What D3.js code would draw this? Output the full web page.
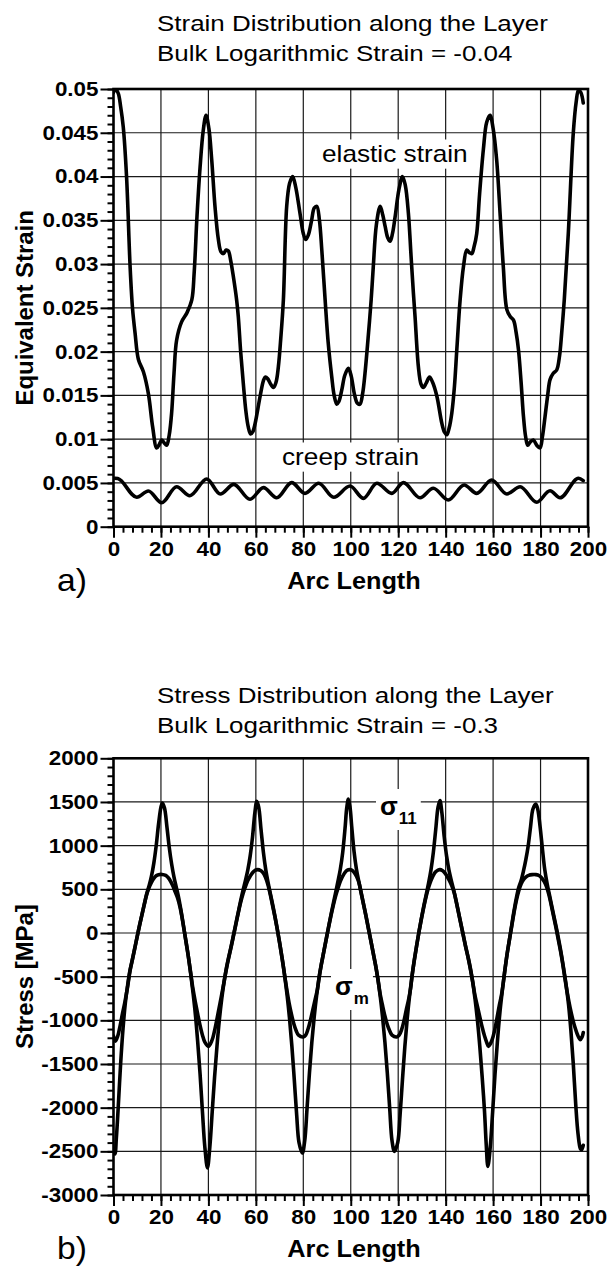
<!DOCTYPE html>
<html lang="en">
<head>
<meta charset="UTF-8">
<title>Strain and stress distribution along the layer</title>
<script src="https://d3js.org/d3.v7.min.js"></script>
<style>
  body { margin: 0; background: #fff; }
  svg { display: block; }
  text { font-family: "Liberation Sans", Arial, Helvetica, sans-serif; fill: #000; }
  .grid line { stroke: #1a1a1a; stroke-width: 1.2; }
  .tick line { stroke: #000; stroke-width: 2; }
  .tick text { font-weight: bold; font-size: 20px; }
  .curve { fill: none; stroke: #000; stroke-width: 3.6; stroke-linejoin: round; stroke-linecap: round; }
</style>
</head>
<body>
<script>
// ---------- values ----------
const arcTicks = [0, 20, 40, 60, 80, 100, 120, 140, 160, 180, 200];

const strainTicks = [0, 0.005, 0.01, 0.015, 0.02, 0.025, 0.03, 0.035, 0.04, 0.045, 0.05];
const strainLabels = ["0", "0.005", "0.01", "0.015", "0.02", "0.025", "0.03", "0.035", "0.04", "0.045", "0.05"];

const stressTicks = [-3000, -2500, -2000, -1500, -1000, -500, 0, 500, 1000, 1500, 2000];
const stressLabels = ["-3000", "-2500", "-2000", "-1500", "-1000", "-500", "0", "500", "1000", "1500", "2000"];

// panel a) : [arc length, equivalent strain]
const elasticStrain = [
  [0,0.0496],[0.8,0.0500],[2,0.0495],[3,0.0480],[4.1,0.0457],[5.5,0.0400],[7,0.0297],[8,0.0250],
  [9.1,0.0221],[10.5,0.0191],[12.6,0.0177],[14.7,0.0152],[16.5,0.0114],[18.2,0.0090],[19.3,0.0094],
  [20.3,0.0099],[21.3,0.0096],[22.4,0.0093],[23.5,0.0105],[24.5,0.0130],[25.5,0.0175],[26.6,0.0213],
  [28.7,0.0234],[30.9,0.0244],[33,0.0259],[34,0.0290],[35.2,0.0355],[36.5,0.0411],[37.8,0.0452],
  [39,0.0470],[40.2,0.0455],[41.4,0.0419],[42.8,0.0365],[44.2,0.0328],[45.3,0.0314],[46.3,0.0312],
  [47.5,0.0316],[48.4,0.0315],[49.4,0.0304],[50.5,0.0286],[51.9,0.0259],[52.6,0.0240],[53.6,0.0200],
  [54.7,0.0164],[55.8,0.0132],[56.8,0.0114],[57.8,0.0106],[58.8,0.0109],[59.7,0.0118],[61.8,0.0149],
  [63.2,0.0167],[64,0.0171],[65,0.0169],[66,0.0164],[67.4,0.0159],[68.5,0.0165],[69.5,0.0183],
  [70.5,0.0215],[71.6,0.0259],[73,0.0366],[74.2,0.0392],[75.5,0.0400],[76.8,0.0388],[78.6,0.0358],
  [80,0.0335],[81,0.0328],[82.1,0.0333],[83.5,0.0350],[84.6,0.0364],[85.7,0.0366],[86.8,0.0350],
  [87.8,0.0316],[89.2,0.0259],[90.5,0.0210],[92,0.0171],[93,0.0150],[94.1,0.0140],[95,0.0143],
  [96.2,0.0156],[97.5,0.0173],[99,0.0181],[100.2,0.0172],[101.5,0.0152],[102.8,0.0141],[103.9,0.0140],
  [105,0.0152],[106,0.0175],[107.3,0.0215],[108.6,0.0259],[109.5,0.0297],[110.8,0.0345],[112.4,0.0366],
  [113.5,0.0356],[114.5,0.0343],[115.6,0.0330],[116.6,0.0326],[117.6,0.0335],[118.7,0.0354],
  [120.3,0.0385],[121.8,0.0400],[123,0.0390],[124.3,0.0358],[125.4,0.0310],[126.4,0.0267],
  [127.1,0.0240],[128.5,0.0183],[129.6,0.0163],[130.6,0.0159],[131.8,0.0164],[133.2,0.0171],
  [134.5,0.0165],[136.3,0.0149],[138.4,0.0118],[139.5,0.0108],[140.5,0.0105],[141.5,0.0113],
  [142.6,0.0130],[143.7,0.0160],[144.7,0.0202],[146.1,0.0259],[147.5,0.0297],[148.9,0.0316],
  [150,0.0313],[151,0.0312],[152,0.0320],[153.1,0.0335],[154.3,0.0380],[155.9,0.0431],[157.3,0.0462],
  [158.7,0.0470],[160,0.0455],[161.5,0.0419],[163,0.0355],[164.3,0.0297],[165.8,0.0248],[167.2,0.0240],
  [168.6,0.0236],[169.7,0.0222],[170.7,0.0202],[171.8,0.0165],[172.8,0.0126],[173.7,0.0103],
  [174.6,0.0093],[175.7,0.0097],[177,0.0099],[178.4,0.0093],[179.8,0.0090],[180.8,0.0103],
  [181.9,0.0126],[183,0.0150],[184,0.0168],[185.3,0.0175],[186.8,0.0179],[188,0.0195],[188.9,0.0221],
  [190,0.0259],[191.7,0.0335],[193.8,0.0450],[195,0.0485],[196,0.0499],[197,0.0496],[198,0.0484]
];

const creepStrain = [
  [0.6,0.00553],[1.8,0.00550],[9.8,0.00336],[14.7,0.00408],[20.3,0.00274],[26.6,0.00457],
  [32.2,0.00354],[39.3,0.00545],[45,0.00374],[50.7,0.00484],[57.5,0.00313],[63.2,0.00446],
  [68.8,0.00331],[75.1,0.00503],[80.7,0.00381],[86.5,0.00496],[92.8,0.00336],[99.7,0.00465],
  [105.3,0.00324],[111,0.00496],[117.3,0.00381],[122.2,0.00503],[129.2,0.00330],[134.8,0.00439],
  [141.1,0.00305],[147.8,0.00477],[153.1,0.00381],[159.4,0.00534],[165.8,0.00374],[171.4,0.00457],
  [178.4,0.00279],[184,0.00411],[188.2,0.00330],[196,0.00553],[198,0.00526]
];

// panel b) : [arc length, stress in MPa]
const sigma11 = [
  [0,-2500],[0.6,-2530],[1.2,-2350],[2,-1990],[3,-1500],[4,-1100],[5,-800],[6,-590],[7,-420],[8,-300],
  [9,-170],[10,-40],[11,90],[12,210],[13,330],[14,450],[15,540],[16,650],[17,800],[18,1000],[19,1250],
  [20,1440],[20.6,1489],
  [21.5,1430],[22.5,1220],[23.5,980],[24.5,790],[25.5,640],[26.5,520],[27.5,400],[28.5,250],[29.5,80],
  [30.5,-90],[31.5,-260],[32.5,-460],[33.5,-680],[34.5,-930],[35.5,-1250],[36.5,-1620],[37.5,-2050],
  [38.5,-2450],[39.6,-2690],
  [40.6,-2450],[41.6,-2050],[42.6,-1650],[43.6,-1300],[44.6,-1000],[45.6,-760],[46.6,-560],[47.6,-400],
  [48.6,-270],[49.6,-150],[50.6,-20],[51.6,110],[52.6,240],[53.6,370],[54.6,490],[55.6,600],[56.6,720],
  [57.6,880],[58.6,1100],[59.6,1380],[60.4,1507],
  [61.2,1440],[62.2,1180],[63.2,920],[64.2,720],[65.2,570],[66.2,440],[67.2,310],[68.2,170],[69.2,20],
  [70.2,-140],[71.2,-310],[72.2,-500],[73.2,-720],[74.2,-980],[75.2,-1300],[76.2,-1680],[77.2,-2080],
  [78.2,-2400],[79.6,-2520],
  [80.6,-2380],[81.6,-2000],[82.6,-1600],[83.6,-1250],[84.6,-960],[85.6,-720],[86.6,-520],[87.6,-360],
  [88.6,-220],[89.6,-80],[90.6,60],[91.6,200],[92.6,330],[93.6,460],[94.6,590],[95.6,730],[96.6,920],
  [97.6,1200],[98.3,1430],[99,1534],
  [99.7,1440],[100.4,1220],[101.4,930],[102.4,730],[103.4,590],[104.4,460],[105.4,330],[106.4,200],
  [107.4,60],[108.4,-80],[109.4,-220],[110.4,-360],[111.4,-520],[112.4,-720],[113.4,-960],[114.4,-1250],
  [115.4,-1600],[116.4,-2000],[117.4,-2380],[118.4,-2500],
  [119.8,-2400],[120.8,-2080],[121.8,-1680],[122.8,-1300],[123.8,-980],[124.8,-720],[125.8,-500],
  [126.8,-310],[127.8,-140],[128.8,20],[129.8,170],[130.8,310],[131.8,440],[132.8,570],[133.8,720],
  [134.8,920],[135.8,1180],[136.8,1440],[137.6,1515],
  [138.4,1380],[139.4,1100],[140.4,880],[141.4,720],[142.4,600],[143.4,490],[144.4,370],[145.4,240],
  [146.4,110],[147.4,-20],[148.4,-150],[149.4,-270],[150.4,-400],[151.4,-560],[152.4,-760],[153.4,-1000],
  [154.4,-1300],[155.4,-1650],[156.4,-2050],[157.1,-2420],[157.8,-2672],
  [158.8,-2450],[159.8,-2050],[160.8,-1620],[161.8,-1250],[162.8,-930],[163.8,-680],[164.8,-460],
  [165.8,-260],[166.8,-90],[167.8,80],[168.8,250],[169.8,400],[170.8,520],[171.8,600],[172.8,710],
  [173.8,840],[174.8,1000],[175.8,1220],[176.8,1420],[178,1477],
  [178.8,1420],[179.8,1220],[180.8,960],[181.8,720],[182.8,560],[183.8,430],[184.8,300],[185.8,170],
  [186.8,40],[187.8,-100],[188.8,-250],[189.8,-420],[190.8,-600],[191.8,-820],[192.8,-1120],
  [193.8,-1500],[194.8,-1950],[195.8,-2300],[196.8,-2470],[197.3,-2480],[198,-2430]
];

const sigmaM = [
  [0,-1180],[0.8,-1240],[1.8,-1180],[2.8,-1060],[3.8,-920],[4.8,-790],[5.8,-640],[7,-430],[8,-300],
  [9,-170],[10,-40],[11,90],[12,210],[13,330],[14,440],[15,520],[16,580],[17,625],[18,655],[19,668],
  [20.5,670],
  [22,660],[23,635],[24,595],[25,540],[26,470],[27,400],[28,300],[29,160],[30.5,-90],[31.5,-260],
  [32.5,-450],[33.5,-640],[34.5,-790],[35.5,-930],[36.5,-1060],[37.5,-1170],[38.5,-1250],[40,-1298],
  [41.5,-1230],[42.5,-1130],[43.5,-1000],[44.5,-860],[45.5,-720],[46.6,-560],[47.6,-410],[48.6,-280],
  [49.6,-160],[50.6,-30],[51.6,100],[52.6,230],[53.6,350],[54.6,450],[55.6,530],[56.6,600],[57.6,650],
  [58.6,690],[59.6,715],[60.8,725],
  [62,715],[63,690],[64,640],[65,560],[66,450],[67,320],[68,190],[69,45],[70,-110],[71,-280],[72,-460],
  [73,-640],[74,-800],[75,-930],[76,-1040],[77,-1120],[78,-1170],[80,-1191],
  [81,-1170],[82,-1100],[83,-1000],[84,-880],[85,-760],[86,-640],[86.6,-520],[87.6,-360],[88.6,-220],
  [89.6,-80],[90.6,60],[91.6,190],[92.6,310],[93.6,420],[94.6,510],[95.6,590],[96.6,650],[97.6,695],
  [98.6,720],[99.5,725],
  [100.4,720],[101.4,695],[102.4,650],[103.4,580],[104.4,455],[105.4,325],[106.4,195],[107.4,55],
  [108.4,-80],[109.4,-220],[110.4,-360],[111.4,-520],[112.4,-700],[113.4,-830],[114.4,-950],
  [115.4,-1050],[116.4,-1120],[117.4,-1170],[119.4,-1191],
  [120.4,-1170],[121.4,-1110],[122.4,-1010],[123.4,-880],[124.4,-760],[125.3,-620],[125.8,-500],
  [126.8,-310],[127.8,-140],[128.8,20],[129.8,165],[130.8,300],[131.8,420],[132.8,520],[133.8,600],
  [134.8,660],[135.8,700],[136.8,720],[137.6,725],
  [138.6,715],[139.6,690],[140.6,650],[141.6,600],[142.6,540],[143.6,460],[144.4,365],[145.4,235],
  [146.4,105],[147.4,-25],[148.4,-155],[149.4,-275],[150.4,-410],[151.4,-560],[152.4,-720],[153.4,-840],
  [154.4,-960],[155.4,-1080],[156.4,-1180],[157.4,-1260],[158,-1298],
  [158.6,-1280],[159.6,-1220],[160.6,-1120],[161.6,-980],[162.6,-830],[163.6,-700],[164.8,-460],
  [165.8,-260],[166.8,-90],[167.8,70],[168.8,230],[169.8,370],[170.8,480],[171.8,560],[172.8,610],
  [173.8,640],[175,660],[176.5,668],[178,668],
  [179.5,655],[180.5,630],[181.5,590],[182.5,530],[183.5,440],[184.5,320],[185.5,190],[186.5,60],
  [187.5,-80],[188.5,-220],[189.5,-380],[190.5,-560],[191.5,-720],[192.5,-860],[193.5,-980],
  [194.5,-1080],[195.5,-1160],[196.7,-1221],[197.5,-1190],[198,-1140]
];

// ---------- drawing ----------
const svg = d3.select('body').append('svg').attr('width', 610).attr('height', 1266);

// the scanned figure's lettering is a little wider than Liberation Sans
const stretch = 1.18;
const tickStretch = 1.12;

function addText(g, str, x, y, opts) {
  opts = opts || {};
  const sx = opts.sx || 1;
  return g.append('text')
    .attr('transform', `translate(${x},${y})${opts.rotate ? ' rotate(' + opts.rotate + ')' : ''} scale(${sx},1)`)
    .attr('text-anchor', opts.anchor || 'start')
    .attr('font-size', opts.size || 22)
    .attr('font-weight', opts.weight || 'normal')
    .text(str);
}

function drawPanel(p) {
  const x = d3.scaleLinear().domain([0, 200]).range([p.left, p.right]);
  const y = d3.scaleLinear().domain(p.yDomain).range([p.bottom, p.top]);
  const g = svg.append('g');

  // titles
  addText(g, p.title[0], 157, p.titleY, { sx: stretch });
  addText(g, p.title[1], 157, p.titleY + 30, { sx: stretch });

  // grid
  const grid = g.append('g').attr('class', 'grid');
  grid.selectAll('line.v').data(arcTicks.slice(1, -1)).join('line').attr('class', 'v')
    .attr('x1', d => x(d)).attr('x2', d => x(d)).attr('y1', p.top).attr('y2', p.bottom);
  grid.selectAll('line.h').data(p.yTicks.slice(1, -1)).join('line').attr('class', 'h')
    .attr('x1', p.left).attr('x2', p.right).attr('y1', d => y(d)).attr('y2', d => y(d));

  // in-plot labels sitting on white boxes that hide the grid
  p.notes.forEach(n => {
    const ng = g.append('g').attr('transform', `translate(${n.x},${n.y}) scale(${n.sx || 1},1)`);
    const t = ng.append('text').attr('font-size', n.size)
      .attr('font-weight', n.weight || 'normal').text(n.text);
    if (n.sub) {
      t.append('tspan').attr('dy', n.subDy).attr('dx', 1).attr('font-size', n.subSize).text(n.sub);
    }
    const b = t.node().getBBox();
    ng.insert('rect', 'text')
      .attr('x', b.x - n.pad).attr('y', b.y - n.pad / 2)
      .attr('width', b.width + 2 * n.pad).attr('height', b.height + n.pad)
      .attr('fill', '#fff');
  });

  // curves
  const clipId = 'clip-' + p.id;
  g.append('clipPath').attr('id', clipId).append('rect')
    .attr('x', p.left).attr('y', p.top - 1)
    .attr('width', p.right - p.left).attr('height', p.bottom - p.top + 1);
  const curves = g.append('g').attr('clip-path', `url(#${clipId})`);
  p.series.forEach(s => {
    const line = d3.line().x(d => x(d[0])).y(d => y(d[1])).curve(s.curve);
    curves.append('path').attr('class', 'curve').attr('d', line(s.data));
  });

  // axes: minor ticks first, then major ticks with labels
  const bottom = g.append('g').attr('transform', `translate(0,${p.bottom})`);
  bottom.append('g').call(d3.axisBottom(x).tickValues(d3.range(0, 201, 4)).tickSize(6).tickFormat(''));
  bottom.append('g').call(d3.axisBottom(x).tickValues(arcTicks).tickSize(11).tickPadding(4))
    .selectAll('.tick text').attr('transform', `scale(${tickStretch},1)`);
  const left = g.append('g').attr('transform', `translate(${p.left},0)`);
  left.append('g').call(d3.axisLeft(y).tickValues(p.yMinor).tickSize(6).tickFormat(''));
  left.append('g').call(d3.axisLeft(y).tickValues(p.yTicks).tickSize(13).tickPadding(2)
    .tickFormat((d, i) => p.yLabels[i]))
    .selectAll('.tick text')
    .attr('x', -15 / tickStretch)
    .attr('transform', `scale(${tickStretch},1)`);
  g.selectAll('.domain').remove();

  // frame
  g.append('rect')
    .attr('x', p.left).attr('y', p.top)
    .attr('width', p.right - p.left).attr('height', p.bottom - p.top)
    .attr('fill', 'none').attr('stroke', '#000').attr('stroke-width', 2.6);

  // axis titles and panel letter
  addText(g, 'Arc Length', 354, p.bottom + 62, { anchor: 'middle', size: 23, weight: 'bold', sx: 1.1 });
  addText(g, p.yTitle, 33, (p.top + p.bottom) / 2,
    { anchor: 'middle', size: 23, weight: 'bold', rotate: -90, sx: 1.04 });
  addText(g, p.letter, 57, p.bottom + 64, { size: 32, sx: 1.05 });
}

drawPanel({
  id: 'a',
  title: ['Strain Distribution along the Layer', 'Bulk Logarithmic Strain = -0.04'],
  titleY: 31,
  left: 113.5, right: 588, top: 89, bottom: 526.7,
  yDomain: [0, 0.05],
  yTicks: strainTicks, yLabels: strainLabels,
  yMinor: d3.range(0, 51).map(i => i / 1000),
  yTitle: 'Equivalent Strain',
  letter: 'a)',
  notes: [
    { text: 'elastic strain', x: 322, y: 162, size: 23, sx: 1.14, pad: 4 },
    { text: 'creep strain', x: 282, y: 465, size: 23, sx: 1.14, pad: 4 }
  ],
  series: [
    { data: elasticStrain, curve: d3.curveCatmullRom.alpha(0.5) },
    { data: creepStrain, curve: d3.curveMonotoneX }
  ]
});

drawPanel({
  id: 'b',
  title: ['Stress Distribution along the Layer', 'Bulk Logarithmic Strain = -0.3'],
  titleY: 703,
  left: 113.5, right: 588, top: 758.3, bottom: 1195,
  yDomain: [-3000, 2000],
  yTicks: stressTicks, yLabels: stressLabels,
  yMinor: d3.range(-3000, 2001, 100),
  yTitle: 'Stress [MPa]',
  letter: 'b)',
  notes: [
    { text: 'σ', sub: '11', x: 380, y: 815, size: 26, subSize: 17, subDy: 9, pad: 4, weight: 'bold' },
    { text: 'σ', sub: 'm', x: 335, y: 995, size: 26, subSize: 17, subDy: 9, pad: 4, weight: 'bold' }
  ],
  series: [
    { data: sigma11, curve: d3.curveCatmullRom.alpha(0.5) },
    { data: sigmaM, curve: d3.curveCatmullRom.alpha(0.5) }
  ]
});
</script>
</body>
</html>
